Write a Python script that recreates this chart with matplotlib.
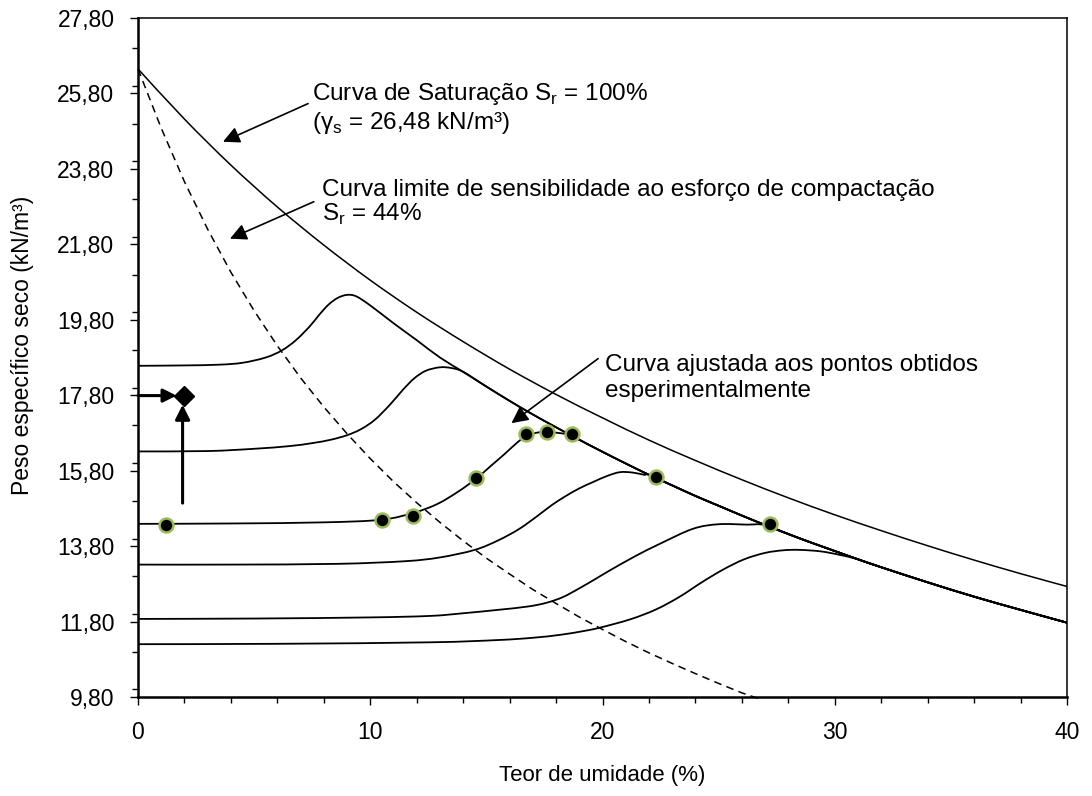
import numpy as np
import matplotlib
matplotlib.use("Agg")
from matplotlib import pyplot as plt
from matplotlib.path import Path
from matplotlib.patches import PathPatch
from matplotlib.ticker import FixedLocator, MultipleLocator, FuncFormatter

plt.rcParams['font.family'] = ['Liberation Sans', 'DejaVu Sans']
plt.rcParams['mathtext.fontset'] = 'custom'
plt.rcParams['mathtext.rm'] = 'Liberation Sans'

# curva de saturacao Sr = 100%
sat_w = [0, 2, 4, 6, 8, 10, 12, 14, 16, 18, 20, 22, 24, 26, 28, 30, 32, 34, 36, 38, 40]
sat_y = [26.45, 25.12, 23.90, 22.79, 21.78, 20.85, 20.00, 19.22, 18.49, 17.82, 17.20,
         16.61, 16.07, 15.56, 15.08, 14.63, 14.21, 13.81, 13.43, 13.07, 12.73]

# curva limite Sr = 44% (tracejada)
lim_w = [0, 1, 2, 3, 4, 5, 6, 7, 8, 9, 10, 11, 12, 13, 14, 15, 16, 17, 18, 19, 20,
         21, 22, 23, 24, 25, 26, 26.9]
lim_y = [26.45, 24.88, 23.46, 22.20, 21.06, 20.04, 19.11, 18.26, 17.49, 16.78, 16.12,
         15.51, 14.95, 14.43, 13.94, 13.48, 13.06, 12.65, 12.28, 11.92, 11.59,
         11.27, 10.97, 10.69, 10.42, 10.16, 9.91, 9.72]

# ramo umido comum (todas as curvas convergem)
ram_w = [10, 11, 12, 13, 14, 15, 16, 17, 18, 19, 20, 21, 22, 23, 24, 25, 26, 27, 28,
         29, 30, 31, 32, 34, 36, 38, 40]
ram_y = [20.18, 19.71, 19.26, 18.80, 18.42, 18.03, 17.65, 17.29, 16.95, 16.62, 16.30,
         15.99, 15.69, 15.41, 15.13, 14.87, 14.61, 14.36, 14.12, 13.89, 13.67, 13.45,
         13.24, 12.84, 12.46, 12.11, 11.77]

# ramos secos das curvas de compactacao
a_w = [0, 2, 3.5, 4.5, 5.5, 6.2, 6.8, 7.4, 7.8, 8.2, 8.6, 9.0, 9.4]
a_y = [18.58, 18.59, 18.61, 18.66, 18.80, 18.99, 19.26, 19.63, 19.93, 20.20, 20.38, 20.46, 20.42]
b_w = [0, 3, 5, 6.5, 7.5, 8.3, 9.0, 9.6, 10.2, 10.85, 11.4, 11.9, 12.4, 13.0, 13.5]
b_y = [16.31, 16.32, 16.38, 16.45, 16.53, 16.62, 16.74, 16.90, 17.15, 17.55, 17.94, 18.25,
       18.45, 18.54, 18.52]
c_w = [0, 4, 8, 10.5, 11.9, 12.9, 13.8, 14.54, 15.2, 15.8, 16.3, 16.72, 17.2, 17.6, 18.1, 18.67]
c_y = [14.39, 14.40, 14.43, 14.50, 14.69, 14.92, 15.25, 15.58, 15.93, 16.25, 16.53, 16.72,
       16.81, 16.82, 16.80, 16.74]
d_w = [0, 4, 8.6, 11.5, 13, 14.5, 15.5, 16.4, 17.2, 17.8, 18.4, 19.0, 19.6, 20.2, 20.75, 21.3, 21.8]
d_y = [13.31, 13.31, 13.33, 13.40, 13.50, 13.70, 13.95, 14.25, 14.60, 14.88, 15.12, 15.33,
       15.50, 15.66, 15.76, 15.75, 15.69]
e_w = [0, 5, 10, 12.6, 14, 15.5, 16.8, 17.6, 18.3, 19.0, 19.7, 20.3, 21.4, 22.5, 23.9, 25.0, 26.2]
e_y = [11.87, 11.88, 11.91, 11.95, 12.02, 12.11, 12.20, 12.30, 12.45, 12.68, 12.93, 13.15,
       13.53, 13.87, 14.26, 14.38, 14.37]
f_w = [0, 6, 12.6, 15.5, 17.0, 18.2, 19.2, 19.9, 21.2, 22.3, 23.3, 24.3, 25.2, 26.1, 27.0,
       27.8, 28.5, 29.4, 30.2]
f_y = [11.20, 11.21, 11.25, 11.31, 11.37, 11.45, 11.55, 11.64, 11.86, 12.12, 12.45, 12.85,
       13.18, 13.45, 13.62, 13.69, 13.70, 13.66, 13.57]

# pontos experimentais
pts_w = [1.22, 10.52, 11.86, 14.54, 16.72, 17.6, 18.67, 22.29, 27.21]
pts_y = [14.37, 14.48, 14.59, 15.61, 16.78, 16.82, 16.78, 15.62, 14.38]

# ponto de referencia (losango)
ref_w = 1.98
ref_y = 17.79

y_ticks = [9.8, 11.8, 13.8, 15.8, 17.8, 19.8, 21.8, 23.8, 25.8, 27.8]
x_ticks = [0, 10, 20, 30, 40]


def curva(w, y):
    ww = list(w) + [v for v in ram_w if v > w[-1]]
    yy = list(y) + [ram_y[i] for i, v in enumerate(ram_w) if v > w[-1]]
    return ww, yy


def suave(w, y):
    # linha suavizada como no Excel (bezier pelos pontos)
    p = np.column_stack([w, y])
    n = len(p)
    verts = [p[0]]
    codes = [Path.MOVETO]
    for i in range(n - 1):
        p0 = p[i - 1] if i > 0 else p[i]
        p3 = p[i + 2] if i + 2 < n else p[i + 1]
        verts += [p[i] + (p[i + 1] - p0) / 6, p[i + 1] - (p3 - p[i]) / 6, p[i + 1]]
        codes += [Path.CURVE4] * 3
    return Path(verts, codes)


fig = plt.figure(figsize=(10.92, 7.96), dpi=100)
ax = fig.add_axes([138 / 1092, 1 - 697 / 796, 929 / 1092, 679 / 796])

for w, y in [(a_w, a_y), (b_w, b_y), (c_w, c_y), (d_w, d_y), (e_w, e_y), (f_w, f_y)]:
    cw, cy = curva(w, y)
    ax.add_patch(PathPatch(suave(cw, cy), fill=False, ec='black', lw=1.3))

ax.add_patch(PathPatch(suave(sat_w, sat_y), fill=False, ec='black', lw=1.1))
ln, = ax.plot(lim_w, lim_y, color='black', lw=1.1, clip_on=False)
ln.set_dashes((5, 3.5))

ax.plot(pts_w, pts_y, 'o', color='black', ms=10, mec='#9BBB59', mew=1.8, zorder=5)

ax.plot([ref_w], [ref_y], 'D', color='black', ms=10, zorder=6)
ax.annotate('', xy=(1.66, ref_y), xytext=(0, ref_y),
            arrowprops=dict(arrowstyle='-|>', color='black', lw=2.2, mutation_scale=20,
                            shrinkA=0, shrinkB=0), annotation_clip=False)
ax.annotate('', xy=(1.92, 17.55), xytext=(1.92, 14.94),
            arrowprops=dict(arrowstyle='-|>', color='black', lw=2.2, mutation_scale=22,
                            shrinkA=0, shrinkB=0))

arr = dict(arrowstyle='-|>', color='black', lw=1.2, mutation_scale=25, shrinkA=0, shrinkB=0)
ax.annotate('', xy=(3.66, 24.52), xytext=(7.32, 25.53), arrowprops=arr)
ax.annotate('', xy=(3.96, 21.95), xytext=(7.57, 22.93), arrowprops=arr)
ax.annotate('', xy=(16.08, 17.06), xytext=(19.81, 18.77), arrowprops=arr)

fs = 17.5
ax.text(7.49, 25.79, 'Curva de Saturação S$_\\mathregular{r}$ = 100%', fontsize=fs, va='center')
ax.text(7.49, 25.02, '(γ$_\\mathregular{s}$ = 26,48 kN/m³)', fontsize=fs, va='center')
ax.text(7.92, 23.25, 'Curva limite de sensibilidade ao esforço de compactação', fontsize=fs, va='center')
ax.text(7.92, 22.59, 'S$_\\mathregular{r}$ = 44%', fontsize=fs, va='center')
ax.text(20.1, 18.59, 'Curva ajustada aos pontos obtidos', fontsize=fs, va='center')
ax.text(20.1, 17.90, 'esperimentalmente', fontsize=fs, va='center')

ax.set_xlim(0, 40)
ax.set_ylim(9.8, 27.8)
ax.xaxis.set_major_locator(FixedLocator(x_ticks))
ax.xaxis.set_minor_locator(MultipleLocator(2))
ax.yaxis.set_major_locator(FixedLocator(y_ticks))
ax.yaxis.set_minor_locator(MultipleLocator(1))
ax.yaxis.set_major_formatter(FuncFormatter(lambda v, p: f'{v:.2f}'.replace('.', ',')))

ax.tick_params(axis='both', which='major', direction='out', width=1.0, labelsize=16.5, length=6)
ax.tick_params(axis='both', which='minor', direction='out', width=1.0, length=4)
ax.tick_params(axis='y', which='major', pad=11)
ax.tick_params(axis='x', which='major', pad=11)

for s in ['left', 'bottom']:
    ax.spines[s].set_linewidth(1.8)
for s in ['top', 'right']:
    ax.spines[s].set_linewidth(1.1)

fig.text(602.5 / 1092, 1 - 775 / 796, 'Teor de umidade (%)', fontsize=16, ha='center', va='center')
fig.text(23 / 1092, 1 - 345 / 796, 'Peso específico seco (kN/m³)', fontsize=16.5, ha='center',
         va='center', rotation=90)

fig.savefig('out.png', dpi=100)
